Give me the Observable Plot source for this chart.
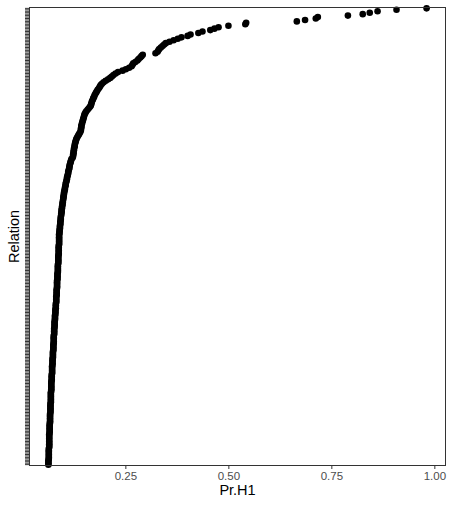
<!DOCTYPE html>
<html>
<head>
<meta charset="utf-8">
<script src="https://cdn.jsdelivr.net/npm/d3@7"></script>
<script src="https://cdn.jsdelivr.net/npm/@observablehq/plot@0.6"></script>
<style>
  html, body { margin: 0; padding: 0; background: #fff; }
  #chart svg { display: block; }
</style>
</head>
<body>
<div id="chart"></div>
<script>
// Pr.H1 values, sorted ascending (bottom category first)
const prH1 = [
  0.062,0.062,0.062,0.062,0.063,0.063,0.063,0.063,0.063,0.063,
  0.063,0.063,0.064,0.064,0.064,0.064,0.064,0.064,0.064,0.064,
  0.064,0.064,0.065,0.065,0.065,0.065,0.065,0.065,0.065,0.066,
  0.066,0.066,0.066,0.066,0.066,0.066,0.067,0.067,0.067,0.067,
  0.067,0.067,0.067,0.068,0.068,0.068,0.068,0.068,0.068,0.068,
  0.068,0.069,0.069,0.069,0.069,0.069,0.069,0.069,0.070,0.070,
  0.070,0.070,0.070,0.071,0.071,0.071,0.071,0.071,0.071,0.072,
  0.072,0.072,0.072,0.072,0.073,0.073,0.073,0.073,0.073,0.074,
  0.074,0.074,0.074,0.074,0.075,0.075,0.075,0.075,0.075,0.075,
  0.076,0.076,0.076,0.076,0.076,0.077,0.077,0.077,0.077,0.077,
  0.078,0.078,0.078,0.078,0.079,0.079,0.079,0.079,0.080,0.080,
  0.080,0.080,0.081,0.081,0.081,0.081,0.081,0.082,0.082,0.082,
  0.082,0.082,0.083,0.083,0.083,0.083,0.083,0.083,0.084,0.084,
  0.084,0.084,0.084,0.085,0.085,0.085,0.085,0.085,0.085,0.086,
  0.086,0.086,0.086,0.086,0.086,0.087,0.087,0.087,0.087,0.087,
  0.087,0.087,0.088,0.088,0.088,0.088,0.088,0.088,0.088,0.088,
  0.089,0.089,0.089,0.090,0.090,0.090,0.091,0.091,0.091,0.092,
  0.092,0.092,0.093,0.093,0.094,0.094,0.094,0.095,0.095,0.096,
  0.096,0.097,0.097,0.098,0.098,0.099,0.099,0.100,0.100,0.101,
  0.102,0.102,0.103,0.104,0.104,0.105,0.106,0.107,0.107,0.108,
  0.109,0.110,0.110,0.111,0.112,0.113,0.113,0.114,0.115,0.116,
  0.117,0.118,0.121,0.122,0.122,0.123,0.123,0.124,0.124,0.125,
  0.126,0.126,0.127,0.128,0.129,0.130,0.132,0.134,0.136,0.138,
  0.140,0.141,0.141,0.142,0.142,0.143,0.144,0.145,0.146,0.147,
  0.148,0.149,0.150,0.152,0.154,0.157,0.160,0.163,0.165,0.166,
  0.167,0.168,0.170,0.171,0.173,0.174,0.176,0.178,0.180,0.182,
  0.185,0.187,0.189,0.192,0.196,0.201,0.207,0.212,0.216,0.220,
  0.225,0.231,0.242,0.250,0.258,0.264,0.266,0.268,0.273,0.278,
  0.281,0.285,0.288,0.291,0.322,0.327,0.329,0.331,0.335,0.339,
  0.343,0.347,0.356,0.366,0.376,0.385,0.400,0.407,0.426,0.436,
  0.455,0.465,0.475,0.499,0.540,0.542,0.665,0.685,0.711,0.716,
  0.789,0.825,0.842,0.861,0.907,0.980
];
// Relation categories (labels are not shown in the chart)
const relations = prH1.map((_, i) => "R" + (i + 1));
const xTicks = [0.25, 0.50, 0.75, 1.00];
const xTitle = "Pr.H1";
const yTitle = "Relation";

const data = prH1.map((p, i) => ({rel: relations[i], p}));
const [lo, hi] = d3.extent(prH1);
const pad = (hi - lo) * 0.05;
const yDomain = relations.slice().reverse();

const chart = Plot.plot({
  width: 456,
  height: 511,
  marginLeft: 29,
  marginRight: 11,
  marginTop: 7,
  marginBottom: 46,
  style: {fontFamily: "'Liberation Sans', Arial, sans-serif", background: "#fff"},
  x: {domain: [lo - pad, hi + pad]},
  y: {type: "point", domain: yDomain, padding: 0.6},
  marks: [
    Plot.axisX({ticks: xTicks, tickFormat: d3.format(".2f"), tickSize: 4, tickPadding: 2,
      fontSize: 11.5, fill: "#4d4d4d", stroke: "#333", label: null}),
    Plot.axisY({ticks: relations, tickFormat: () => "", tickSize: 4, stroke: "#333", label: null}),
    Plot.dot(data, {x: "p", y: "rel", r: 3.3, fill: "black", stroke: null}),
    Plot.frame({stroke: "#333", strokeWidth: 1}),
    Plot.text([xTitle], {frameAnchor: "bottom", dy: 29, fontSize: 14.5, fill: "black"}),
    Plot.text([yTitle], {frameAnchor: "left", dx: -15, rotate: -90, textAnchor: "middle",
      fontSize: 14.5, fill: "black"})
  ]
});
document.getElementById("chart").appendChild(chart);
</script>
</body>
</html>
